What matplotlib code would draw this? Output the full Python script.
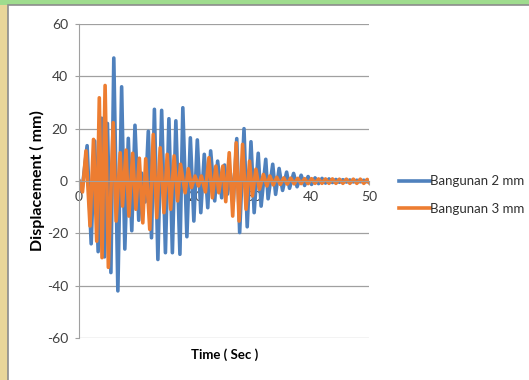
import matplotlib.pyplot as plt
from matplotlib.patches import Rectangle

# Bangunan 2 mm : extreme points (time, displacement)
t2 = [0.0, 0.5, 1.4, 2.1, 2.7, 3.3, 3.9, 4.4, 4.9, 5.5, 6.0, 6.7, 7.35, 7.9, 8.5, 9.1,
      9.65, 10.3, 10.8, 11.4, 11.95, 12.5, 13.0, 13.6, 14.25, 14.9, 15.5, 16.1, 16.7,
      17.4, 17.9, 18.6, 19.2, 19.8, 20.4, 21.0, 21.6, 22.2, 22.7, 23.4, 23.9, 24.6,
      25.1, 25.6, 26.1, 26.6, 27.2, 27.7, 28.45, 29.0, 29.65, 30.2, 30.9, 31.4, 32.2,
      32.6, 33.4, 33.9, 34.5, 35.1, 35.8, 36.3, 37.0, 37.6, 38.3, 38.9, 39.5, 40.1,
      40.7, 41.3, 41.9, 42.5, 43.1, 43.7, 44.3, 44.9, 45.5, 46.1, 46.7, 47.3, 47.9,
      48.5, 49.1, 49.7, 50.0]
y2 = [0, -4, 13.5, -24, 15.3, -27, 24, -29, 22, -35, 47, -42, 36, -26, 16.3, -19,
      21.3, -15, 3, -8, 19, -21.7, 27.4, -30, 27, -27.4, 23.8, -27.4, 23,
      -28, 28, -21.3, 16.5, -15.3, 15.7, -12.1, 10.2, -10.2, 11.5, -7.6, 7.6, -6.4,
      6.1, -5, 3, -8, 16.2, -19.7, 20, -17.5, 15, -12.1, 10.6, -9.6, 8.3,
      -6.8, 6.4, -5.1, 4.8, -3.6, 3.4, -2.8, 2.9, -2.2, 2.2, -1.7, 1.7, -1.3,
      1.2, -1.0, 1.0, -0.8, 0.8, -0.6, 0.6, -0.5, 0.5, -0.4, 0.4, -0.35, 0.3,
      -0.3, 0.3, -0.3, 0]

# Bangunan 3 mm
t3 = [0.0, 0.6, 1.2, 1.9, 2.5, 3.05, 3.5, 3.97, 4.5, 5.06, 5.9, 6.4, 7.1, 7.5, 8.1,
      8.6, 9.25, 9.8, 10.4, 11.0, 11.5, 12.2, 12.8, 13.4, 14.0, 14.65, 15.2, 15.8,
      16.4, 17.0, 17.5, 18.3, 18.85, 19.4, 20.0, 20.6, 21.1, 21.8, 22.4, 23.0, 23.6,
      24.1, 24.8, 25.3, 25.9, 26.5, 27.1, 27.6, 28.2, 28.8, 29.4, 29.9, 30.5, 31.1,
      31.8, 32.4, 32.9, 33.5, 34.1, 34.7, 35.3, 35.9, 36.5, 37.1, 37.7, 38.3, 38.9,
      39.5, 40.1, 40.7, 41.3, 41.9, 42.5, 43.1, 43.7, 44.3, 44.9, 45.5, 46.1, 46.7,
      47.3, 47.9, 48.5, 49.1, 49.7, 50.0]
y3 = [0, -4.2, 11.5, -17.2, 15.9, -23, 31.8, -29.3, 36.5, -33, 22.3, -15.3, 10.8, -9.6, 11.8,
      -13.4, 10.6, -10.8, 8.7, -16, 8.5, -18.5, 17.8, -14, 12.7, -12.1, 10.2, -10.8,
      9.6, -7.6, 6.4, -4.5, 4.7, -2.5, 1.9, -1.9, 1.9, -4.2, 8.9, -6.4, 5.7,
      -4.5, 5.7, -7.9, 10.8, -13.4, 14.6, -15.3, 14, -10.8, 7.6, -5.7, 4.5, -3.2,
      2.5, -1.9, 1.9, -1.5, 1.4, -1.3, 1.2, -1.2, 1.1, -1.1, 1.0, -1.0, 0.9,
      -1.0, 0.9, -0.9, 0.8, -0.9, 0.8, -0.9, 0.8, -0.9, 0.7, -0.9, 0.7, -0.9,
      0.7, -0.9, 0.7, -0.9, 0.6, -0.5]

labels = ["Bangunan 2 mm", "Bangunan 3 mm"]
colors = ["#4f81bd", "#ed7d31"]

plt.rcParams['font.family'] = ['Lato', 'DejaVu Sans']
plt.rcParams['axes.unicode_minus'] = False

fig = plt.figure(figsize=(5.29, 3.80), dpi=100, facecolor="#e9d69a")
# green strip on top and white panel with a thin grey border
fig.patches.append(Rectangle((0, 1 - 5 / 380), 1, 5 / 380, transform=fig.transFigure,
                             facecolor="#9fdc8e", edgecolor="none", zorder=-2))
fig.patches.append(Rectangle((8 / 529, -0.01), 1, 1 - 5 / 380 + 0.01,
                             transform=fig.transFigure, facecolor="white",
                             edgecolor="#8c8c8c", linewidth=1.2, zorder=-1))

ax = fig.add_axes([79 / 529, 42 / 380, 290 / 529, 314 / 380])
ax.set_zorder(2)
ax.set_facecolor("none")
ax.plot(t2, y2, color=colors[0], lw=2.6, label=labels[0], solid_joinstyle="round")
ax.plot(t3, y3, color=colors[1], lw=2.6, label=labels[1], solid_joinstyle="round")

ax.set_xlim(0, 50)
ax.set_ylim(-60, 60)
ax.set_xticks([0, 10, 20, 30, 40, 50])
ax.set_yticks([-60, -40, -20, 0, 20, 40, 60])
ax.yaxis.grid(True, color="#a0a0a0", lw=0.9)
ax.set_axisbelow(True)
for s in ["top", "right"]:
    ax.spines[s].set_visible(False)
ax.spines["bottom"].set_position(("data", 0))
ax.spines["bottom"].set_color("#a0a0a0")
ax.spines["left"].set_color("#a0a0a0")
ax.tick_params(axis="y", length=3, color="#a0a0a0", labelsize=10, pad=5)
ax.tick_params(axis="x", length=3, color="#a0a0a0", labelsize=10, pad=4)
for lab in ax.get_xticklabels() + ax.get_yticklabels():
    lab.set_color("#404040")

ax.set_ylabel("Displacement ( mm)", fontsize=11.5, fontweight="bold", labelpad=1)
fig.text(225 / 529, 1 - 355 / 380, "Time ( Sec )", fontsize=9.5, fontweight="bold",
         ha="center", va="center")

ax.legend(loc="center left", bbox_to_anchor=(1.064, 0.455), frameon=False,
          fontsize=9.5, handlelength=2.3, handletextpad=0.05, labelspacing=1.2,
          labelcolor="#303030")

fig.savefig("out.png", dpi=100, facecolor=fig.get_facecolor())
